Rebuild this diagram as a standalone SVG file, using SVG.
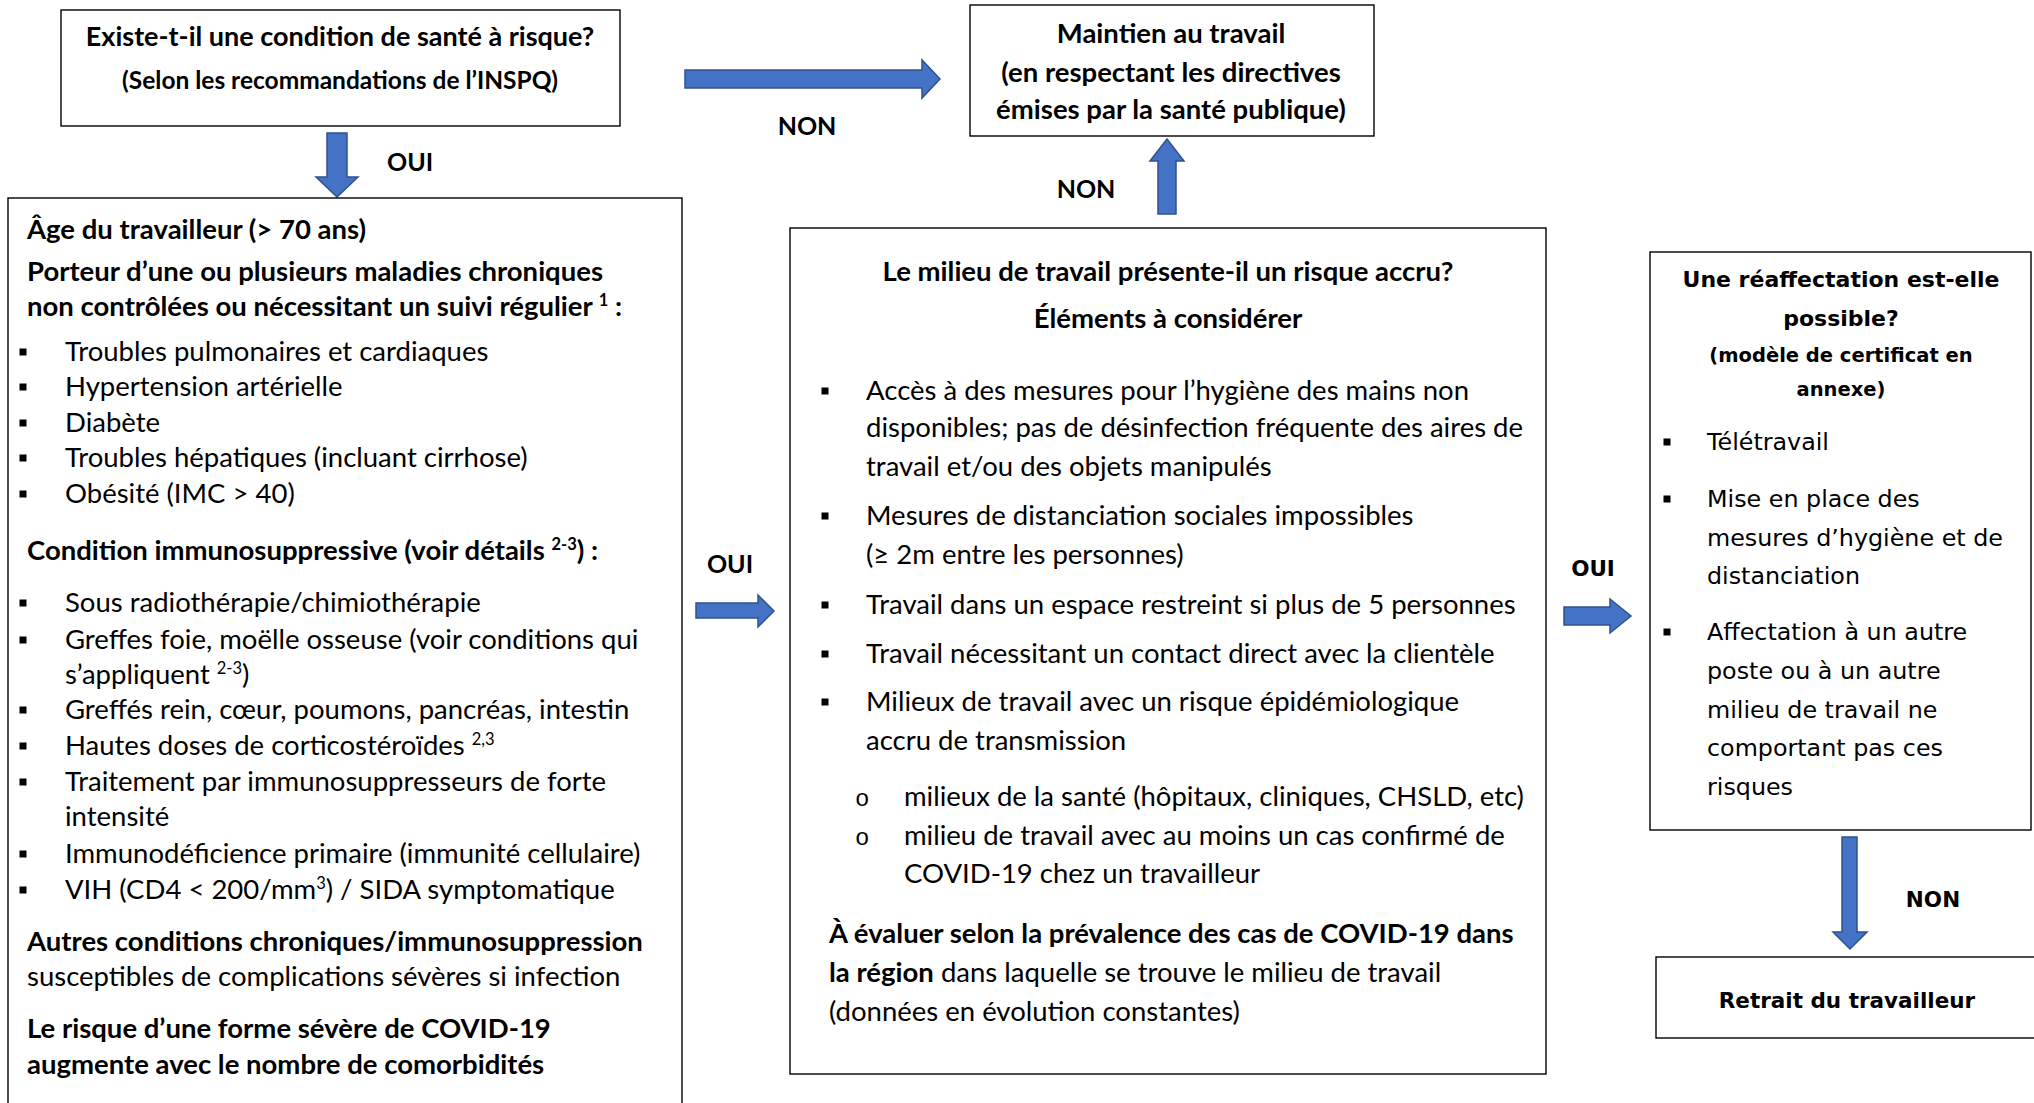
<svg xmlns="http://www.w3.org/2000/svg" width="2034" height="1103" viewBox="0 0 2034 1103">
<style>
.box{fill:#fff;stroke:#000;stroke-width:1.4}
.arr{fill:#4472C4;stroke:#2F528F;stroke-width:1.5;stroke-linejoin:miter}
.t{font-family:Lato,"Liberation Sans",sans-serif;font-size:27.5px;fill:#000}
.lbl{font-family:Lato,"Liberation Sans",sans-serif;font-size:25px;font-weight:bold;fill:#000}
.b{font-weight:bold}
.w{font-family:"DejaVu Sans",Verdana,sans-serif;font-size:23.8px;fill:#000}
.wb{font-family:"DejaVu Sans",Verdana,sans-serif;font-size:21.5px;font-weight:bold;fill:#000}
.c{text-anchor:middle}
.sup{font-size:60%}
.sq{fill:#000}
</style>
<defs>
<rect id="bul" class="sq" x="-3.5" y="-3.5" width="7" height="7"/>
</defs>

<g id="connectors">
<polygon class="arr" points="327,133 347,133 347,177 358,177 337,197 316,177 327,177"/>
<polygon class="arr" points="685,70 922,70 922,60 940,79 922,98 922,88 685,88"/>
<polygon class="arr" points="1158,214 1176,214 1176,161 1184,161 1167,139 1150,161 1158,161"/>
<polygon class="arr" points="696,603 758,603 758,595 774,611 758,627 758,618 696,618"/>
<polygon class="arr" points="1564,607 1610,607 1610,599 1631,616 1610,633 1610,625 1564,625"/>
<polygon class="arr" points="1842,837 1857,837 1857,932 1867,932 1850,949 1833,932 1842,932"/>
<text class="lbl c" x="807" y="135">NON</text>
<text class="lbl" x="387" y="171">OUI</text>
<text class="lbl c" x="1086" y="198">NON</text>
<text class="lbl c" x="730" y="573">OUI</text>
<text class="wb c" x="1593" y="576">OUI</text>
<text class="wb c" x="1933" y="907">NON</text>
</g>

<g id="node-condition">
<rect class="box" x="61" y="10" width="559" height="116"/>
<text class="t b c" x="340" y="46" style="font-size:27px">Existe-t-il une condition de santé à risque?</text>
<text class="t b c" x="340" y="89" style="font-size:24.5px">(Selon les recommandations de l’INSPQ)</text>
</g>

<g id="node-maintien">
<rect class="box" x="970" y="5" width="404" height="131"/>
<text class="t b c" x="1171" y="43">Maintien au travail</text>
<text class="t b c" x="1171" y="82">(en respectant les directives</text>
<text class="t b c" x="1171" y="119">émises par la santé publique)</text>
</g>

<g id="node-facteurs">
<rect class="box" x="8" y="198" width="674" height="930"/>
<text class="t b" x="27" y="239">Âge du travailleur (&gt; 70 ans)</text>
<text class="t b" x="27" y="281">Porteur d’une ou plusieurs maladies chroniques</text>
<text class="t b" x="27" y="316">non contrôlées ou nécessitant un suivi régulier <tspan class="sup" baseline-shift="super">1</tspan> :</text>
<use href="#bul" x="23" y="352"/><text class="t" x="65" y="361">Troubles pulmonaires et cardiaques</text>
<use href="#bul" x="23" y="387"/><text class="t" x="65" y="396">Hypertension artérielle</text>
<use href="#bul" x="23" y="423"/><text class="t" x="65" y="432">Diabète</text>
<use href="#bul" x="23" y="458"/><text class="t" x="65" y="467">Troubles hépatiques (incluant cirrhose)</text>
<use href="#bul" x="23" y="494"/><text class="t" x="65" y="503">Obésité (IMC &gt; 40)</text>
<text class="t b" x="27" y="560">Condition immunosuppressive (voir détails <tspan class="sup" baseline-shift="super">2-3</tspan>) :</text>
<use href="#bul" x="23" y="603"/><text class="t" x="65" y="612">Sous radiothérapie/chimiothérapie</text>
<use href="#bul" x="23" y="640"/><text class="t" x="65" y="649">Greffes foie, moëlle osseuse (voir conditions qui</text>
<text class="t" x="65" y="684">s’appliquent <tspan class="sup" baseline-shift="super">2-3</tspan>)</text>
<use href="#bul" x="23" y="710"/><text class="t" x="65" y="719">Greffés rein, cœur, poumons, pancréas, intestin</text>
<use href="#bul" x="23" y="746"/><text class="t" x="65" y="755">Hautes doses de corticostéroïdes <tspan class="sup" baseline-shift="super">2,3</tspan></text>
<use href="#bul" x="23" y="782"/><text class="t" x="65" y="791">Traitement par immunosuppresseurs de forte</text>
<text class="t" x="65" y="826">intensité</text>
<use href="#bul" x="23" y="854"/><text class="t" x="65" y="863">Immunodéficience primaire (immunité cellulaire)</text>
<use href="#bul" x="23" y="890"/><text class="t" x="65" y="899">VIH (CD4 &lt; 200/mm<tspan class="sup" baseline-shift="super">3</tspan>) / SIDA symptomatique</text>
<text class="t b" x="27" y="951">Autres conditions chroniques/immunosuppression</text>
<text class="t" x="27" y="986">susceptibles de complications sévères si infection</text>
<text class="t b" x="27" y="1038">Le risque d’une forme sévère de COVID-19</text>
<text class="t b" x="27" y="1074">augmente avec le nombre de comorbidités</text>
</g>

<g id="node-milieu">
<rect class="box" x="790" y="228" width="756" height="846"/>
<text class="t b c" x="1168" y="281">Le milieu de travail présente-il un risque accru?</text>
<text class="t b c" x="1168" y="328">Éléments à considérer</text>
<use href="#bul" x="825" y="391"/><text class="t" x="866" y="400">Accès à des mesures pour l’hygiène des mains non</text>
<text class="t" x="866" y="437">disponibles; pas de désinfection fréquente des aires de</text>
<text class="t" x="866" y="476">travail et/ou des objets manipulés</text>
<use href="#bul" x="825" y="516"/><text class="t" x="866" y="525">Mesures de distanciation sociales impossibles</text>
<text class="t" x="866" y="564">(≥ 2m entre les personnes)</text>
<use href="#bul" x="825" y="605"/><text class="t" x="866" y="614">Travail dans un espace restreint si plus de 5 personnes</text>
<use href="#bul" x="825" y="654"/><text class="t" x="866" y="663">Travail nécessitant un contact direct avec la clientèle</text>
<use href="#bul" x="825" y="702"/><text class="t" x="866" y="711">Milieux de travail avec un risque épidémiologique</text>
<text class="t" x="866" y="750">accru de transmission</text>
<text class="t" x="855" y="806" style="font-family:'Liberation Mono',monospace;font-size:24px">o</text><text class="t" x="904" y="806">milieux de la santé (hôpitaux, cliniques, CHSLD, etc)</text>
<text class="t" x="855" y="845" style="font-family:'Liberation Mono',monospace;font-size:24px">o</text><text class="t" x="904" y="845">milieu de travail avec au moins un cas confirmé de</text>
<text class="t" x="904" y="883">COVID-19 chez un travailleur</text>
<text class="t" x="829" y="943"><tspan class="b">À évaluer selon la prévalence des cas de COVID-19 dans</tspan></text>
<text class="t" x="829" y="982"><tspan class="b">la région</tspan> dans laquelle se trouve le milieu de travail</text>
<text class="t" x="829" y="1021">(données en évolution constantes)</text>
</g>

<g id="node-reaffectation">
<rect class="box" x="1650" y="252" width="381" height="578"/>
<text class="wb c" x="1841" y="287" style="font-size:22px">Une réaffectation est-elle</text>
<text class="wb c" x="1841" y="326" style="font-size:22px">possible?</text>
<text class="wb c" x="1841" y="362" style="font-size:19.5px">(modèle de certificat en</text>
<text class="wb c" x="1841" y="396" style="font-size:19.5px">annexe)</text>
<use href="#bul" x="1667" y="442"/><text class="w" x="1707" y="450">Télétravail</text>
<use href="#bul" x="1667" y="499"/><text class="w" x="1707" y="507">Mise en place des</text>
<text class="w" x="1707" y="546">mesures d’hygiène et de</text>
<text class="w" x="1707" y="584">distanciation</text>
<use href="#bul" x="1667" y="632"/><text class="w" x="1707" y="640">Affectation à un autre</text>
<text class="w" x="1707" y="679">poste ou à un autre</text>
<text class="w" x="1707" y="718">milieu de travail ne</text>
<text class="w" x="1707" y="756">comportant pas ces</text>
<text class="w" x="1707" y="795">risques</text>
</g>

<g id="node-retrait">
<rect class="box" x="1656" y="957" width="400" height="81"/>
<text class="wb c" x="1847" y="1008">Retrait du travailleur</text>
</g>
</svg>
